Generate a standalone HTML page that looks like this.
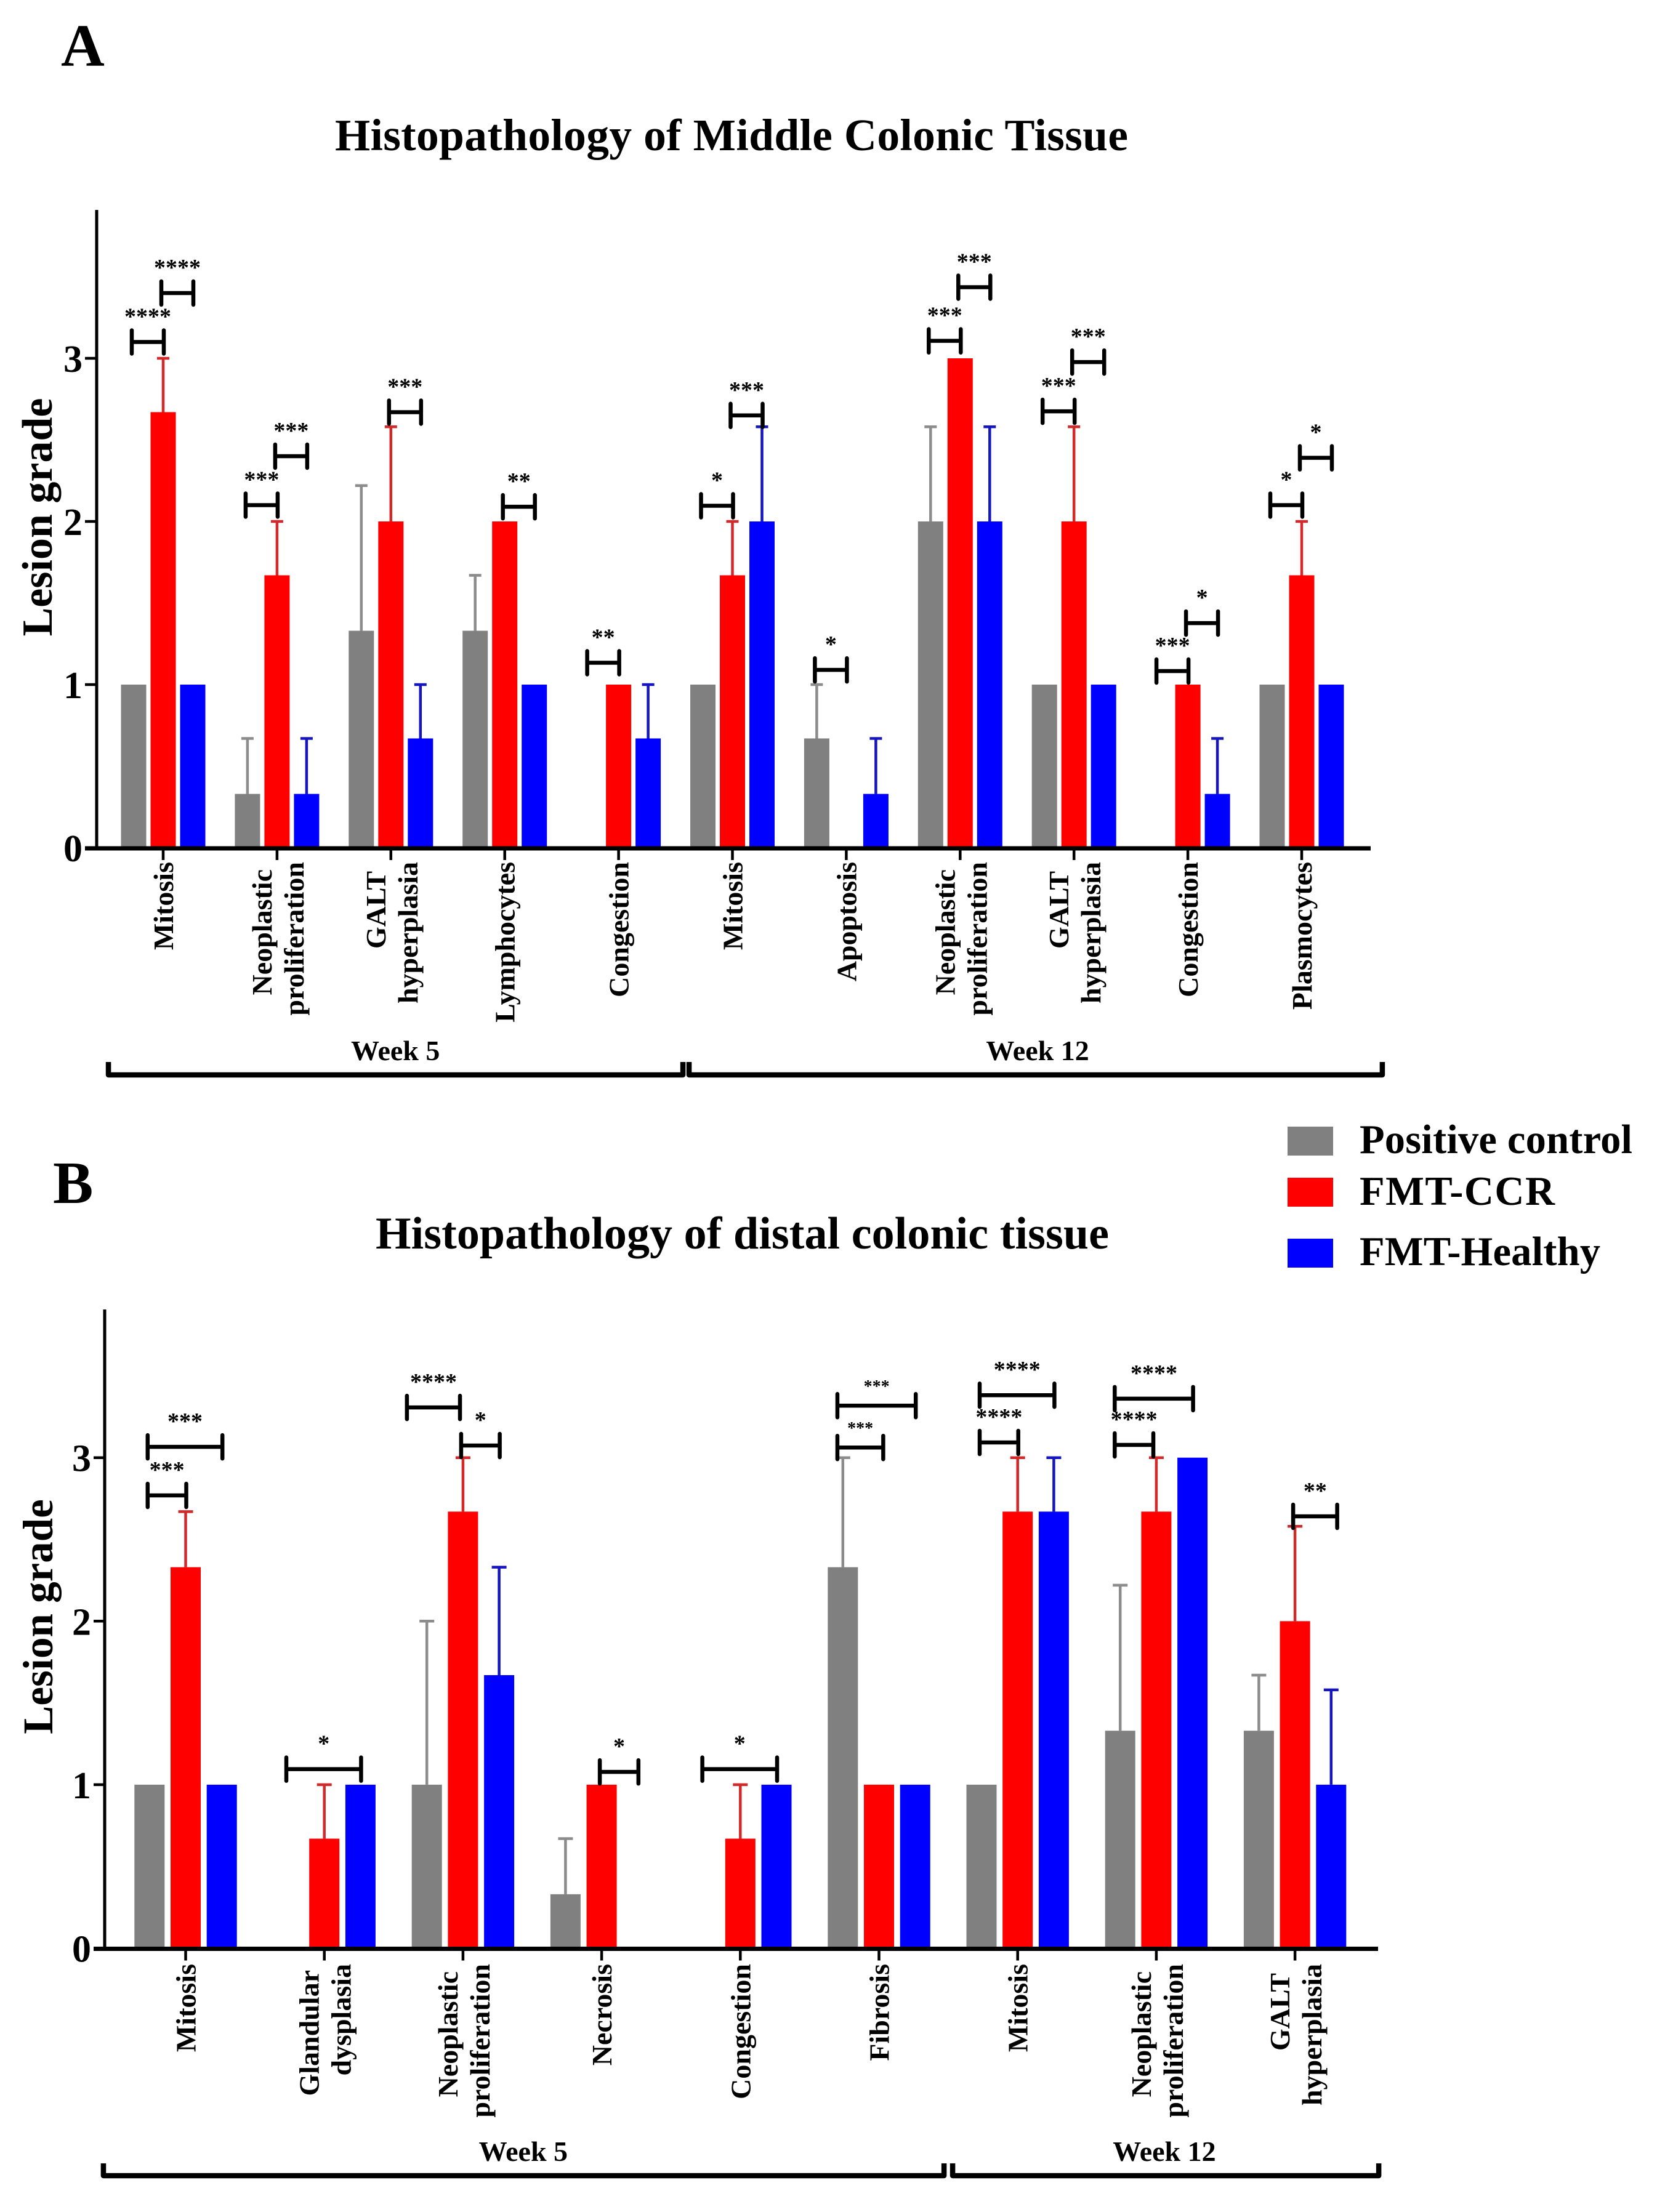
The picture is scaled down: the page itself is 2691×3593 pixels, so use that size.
<!DOCTYPE html>
<html lang="en">
<head>
<meta charset="utf-8">
<title>Histopathology of colonic tissue</title>
<style>
html,body{margin:0;padding:0;background:#fff;}
svg{display:block;}
text{font-family:"Liberation Serif",serif;font-weight:bold;fill:#000;}
</style>
</head>
<body>
<svg id="figure" xmlns="http://www.w3.org/2000/svg" width="2691" height="3593" viewBox="0 0 2691 3593">
  <rect x="0" y="0" width="2691" height="3593" fill="#fff"/>
  <text x="99" y="107" font-size="98">A</text>
  <text x="544" y="244" font-size="73.5" textLength="1288">Histopathology of Middle Colonic Tissue</text>
  <text x="86" y="1954" font-size="98">B</text>
  <text x="610" y="2028" font-size="74" textLength="1191">Histopathology of distal colonic tissue</text>
  <g>
    <rect x="2091" y="1830" width="74" height="47" fill="#808080"/>
    <text x="2208" y="1873" font-size="66.5" textLength="443">Positive control</text>
    <rect x="2091" y="1913" width="74" height="47" fill="#ff0000"/>
    <text x="2208" y="1957" font-size="66.5" textLength="317">FMT-CCR</text>
    <rect x="2091" y="2012" width="74" height="47" fill="#0000ff"/>
    <text x="2208" y="2055" font-size="66.5" textLength="391">FMT-Healthy</text>
  </g>
  <g id="chart-a"></g>
  <g id="chart-b"></g>
</svg>
<script>
// ---------- Panel A data ----------
const aCategories = [["Mitosis"],["Neoplastic","proliferation"],["GALT","hyperplasia"],["Lymphocytes"],["Congestion"],["Mitosis"],["Apoptosis"],["Neoplastic","proliferation"],["GALT","hyperplasia"],["Congestion"],["Plasmocytes"]];
const aPositive    = [1,0.33,1.33,1.33,0,1,0.67,2,1,0,1];
const aPositiveErr = [0,0.34,0.89,0.34,0,0,0.33,0.58,0,0,0];
const aCcr         = [2.67,1.67,2,2,1,1.67,0,3,2,1,1.67];
const aCcrErr      = [0.33,0.33,0.58,0,0,0.33,0,0,0.58,0,0.33];
const aHealthy     = [1,0.33,0.67,1,0.67,2,0.33,2,1,0.33,1];
const aHealthyErr  = [0,0.34,0.33,0,0.33,0.58,0.34,0.58,0,0.34,0];
// significance: [category, from slot, to slot, lesion-grade level, stars, faint]
const aSignificance = [
  [0,-1,0,3.10,"****",0],[0,0,1,3.40,"****",0],
  [1,-1,0,2.10,"***",0],[1,0,1,2.40,"***",0],
  [2,0,1,2.67,"***",0],
  [3,0,1,2.09,"**",0],
  [4,-1,0,1.134,"**",0],
  [5,-1,0,2.096,"*",0],[5,0,1,2.65,"***",0],
  [6,-1,0,1.09,"*",0],
  [7,-1,0,3.107,"***",0],[7,0,1,3.436,"***",0],
  [8,-1,0,2.675,"***",0],[8,0,1,2.977,"***",0],
  [9,-1,0,1.083,"***",0],[9,0,1,1.377,"*",0],
  [10,-1,0,2.10,"*",0],[10,0,1,2.39,"*",0]
];
// week groups: [label, from category position, to category position, label position]
const aWeeks = [["Week 5",-0.481,4.565,2.04],["Week 12",4.619,10.708,7.68]];

// ---------- Panel B data ----------
const bCategories = [["Mitosis"],["Glandular","dysplasia"],["Neoplastic","proliferation"],["Necrosis"],["Congestion"],["Fibrosis"],["Mitosis"],["Neoplastic","proliferation"],["GALT","hyperplasia"]];
const bPositive    = [1,0,1,0.33,0,2.33,1,1.33,1.33];
const bPositiveErr = [0,0,1,0.34,0,0.67,0,0.89,0.34];
const bCcr         = [2.33,0.67,2.67,1,0.67,1,2.67,2.67,2];
const bCcrErr      = [0.34,0.33,0.33,0,0.33,0,0.33,0.33,0.58];
const bHealthy     = [1,1,1.67,0,1,1,2.67,3,1];
const bHealthyErr  = [0,0,0.66,0,0,0,0.33,0,0.58];
const bSignificance = [
  [0,-1,1,3.066,"***",0],[0,-1,0,2.769,"***",0],
  [1,-1,1,1.095,"*",0],
  [2,-1.5,-0.1,3.307,"****",0],[2,0,1,3.074,"*",0],
  [3,0,1,1.078,"*",0],
  [4,-1,1,1.095,"*",0],
  [5,-1.1,1,3.318,"***",1],[5,-1.1,0.1,3.062,"***",1],
  [6,-1,1,3.382,"****",0],[6,-1,0,3.093,"****",0],
  [7,-1.1,1,3.361,"****",0],[7,-1.1,-0.1,3.078,"****",0],
  [8,0,1.15,2.641,"**",0]
];
const bWeeks = [["Week 5",-0.593,5.469,2.435],["Week 12",5.531,8.604,7.058]];

const yTicks = [0,1,2,3];
const seriesNames = ["positive-control","fmt-ccr","fmt-healthy"];
const seriesFill  = ["#808080","#ff0000","#0000ff"];
const seriesErrColor = ["#8c8c8c","#d22a2a","#1515c0"];
const lineIndent = {Neoplastic:12, Glandular:10, GALT:15};

const NS = "http://www.w3.org/2000/svg";
function mk(parent, tag, attrs, txt){
  const el = document.createElementNS(NS, tag);
  for (const k in attrs) el.setAttribute(k, attrs[k]);
  if (txt !== undefined) el.textContent = txt;
  parent.appendChild(el);
  return el;
}

function drawChart(root, c){
  const Y = v => c.y0 - v * c.unit;
  const X = k => c.firstTick + k * c.step;
  const values = [c.positive, c.ccr, c.healthy];
  const errors = [c.positiveErr, c.ccrErr, c.healthyErr];

  // error bars then bars
  values.forEach((vals, s) => {
    vals.forEach((v, k) => {
      const cx = X(k) + (s - 1) * c.slot;
      const err = errors[s][k];
      if (err > 0) {
        const e = mk(root, "path", {d:"M"+cx+" "+Y(v)+"V"+Y(v+err)+"M"+(cx-c.cap)+" "+Y(v+err)+"H"+(cx+c.cap), stroke:seriesErrColor[s], "stroke-width":4.5, fill:"none"});
        
        
      }
      const b = mk(root, "rect", {x:cx-c.barW/2, y:Y(v), width:c.barW, height:Math.max(0,Y(0)-Y(v)), fill:seriesFill[s]});
      
      
    });
  });

  // axes
  const yAxis = mk(root, "line", {x1:c.axisX, x2:c.axisX, y1:c.top, y2:Y(0)+3, stroke:"#000", "stroke-width":5});
  
  
  const xAxis = mk(root, "line", {x1:c.axisX-c.tickLen, x2:c.xEnd, y1:Y(0)+1, y2:Y(0)+1, stroke:"#000", "stroke-width":7});
  
  

  yTicks.forEach(t => {
    const tick = mk(root, "line", {x1:c.axisX-c.tickLen, x2:c.axisX, y1:Y(t), y2:Y(t), stroke:"#000", "stroke-width":4.5});
    
    
    const lab = mk(root, "text", {x:c.axisX-c.tickLen-4, y:Y(t)+22, "font-size":62, "text-anchor":"end"}, String(t));
    
    
  });

  const yTitle = mk(root, "text", {transform:"translate("+c.titleX+" "+c.titleY+") rotate(-90)", "font-size":c.titleSize, "text-anchor":"middle"}, "Lesion grade");
  
  

  // category ticks + labels
  c.categories.forEach((lines, k) => {
    const tick = mk(root, "line", {x1:X(k), x2:X(k), y1:Y(0), y2:Y(0)+c.xTickLen, stroke:"#000", "stroke-width":4.5});
    
    
    lines.forEach((line, i) => {
      let off = 16;
      if (lines.length > 1) off = i === 0 ? -9 : 43;
      const indent = (i === 0 && lines.length > 1) ? (lineIndent[line] || 0) : 0;
      const t = mk(root, "text", {transform:"translate("+(X(k)+off)+" "+(c.labelTop+indent)+") rotate(-90)", "font-size":46, "text-anchor":"end"}, line);
      
      
    });
  });

  // significance brackets
  c.significance.forEach(sig => {
    const x1 = X(sig[0]) + sig[1] * c.slot - 3;
    const x2 = X(sig[0]) + sig[2] * c.slot + 1;
    const y = Y(sig[3]);
    const br = mk(root, "path", {d:"M"+x1+" "+(y-19)+"V"+(y+19)+"M"+x1+" "+y+"H"+x2+"M"+x2+" "+(y-19)+"V"+(y+19), stroke:"#000", "stroke-width":6.5, "stroke-linecap":"round", fill:"none"});
    
    
    const faint = sig[5] === 1;
    const st = mk(root, "text", {x:(x1+x2)/2, y:y-(faint?22:29), "font-size":faint?28:38, "text-anchor":"middle"}, sig[4]);
    
    
  });

  // week groups
  c.weeks.forEach(w => {
    const x1 = X(w[1]), x2 = X(w[2]);
    const g = mk(root, "path", {d:"M"+x1+" "+c.groupTop+"V"+c.groupY+"H"+x2+"V"+c.groupTop, stroke:"#000", "stroke-width":8.5, fill:"none", "stroke-linejoin":"round"});
    
    
    const t = mk(root, "text", {x:X(w[3]), y:c.groupLabelY, "font-size":46, "text-anchor":"middle"}, w[0]);
    
    
  });
}

drawChart(document.getElementById("chart-a"), {
  categories:aCategories, positive:aPositive, positiveErr:aPositiveErr, ccr:aCcr, ccrErr:aCcrErr, healthy:aHealthy, healthyErr:aHealthyErr,
  significance:aSignificance, weeks:aWeeks,
  y0:1377, unit:265, top:341, axisX:157, xEnd:2226, tickLen:19, xTickLen:20,
  firstTick:265, step:184.9, slot:48, barW:41, cap:10,
  titleX:84, titleY:840, titleSize:70, labelTop:1400,
  groupTop:1725, groupY:1746, groupLabelY:1722
});
drawChart(document.getElementById("chart-b"), {
  categories:bCategories, positive:bPositive, positiveErr:bPositiveErr, ccr:bCcr, ccrErr:bCcrErr, healthy:bHealthy, healthyErr:bHealthyErr,
  significance:bSignificance, weeks:bWeeks,
  y0:3164.5, unit:265.6, top:2127, axisX:170, xEnd:2238, tickLen:18, xTickLen:20,
  firstTick:301.5, step:225.2, slot:58.7, barW:49, cap:12,
  titleX:85, titleY:2626, titleSize:69, labelTop:3190,
  groupTop:3514, groupY:3534, groupLabelY:3510
});
</script>
</body>
</html>
